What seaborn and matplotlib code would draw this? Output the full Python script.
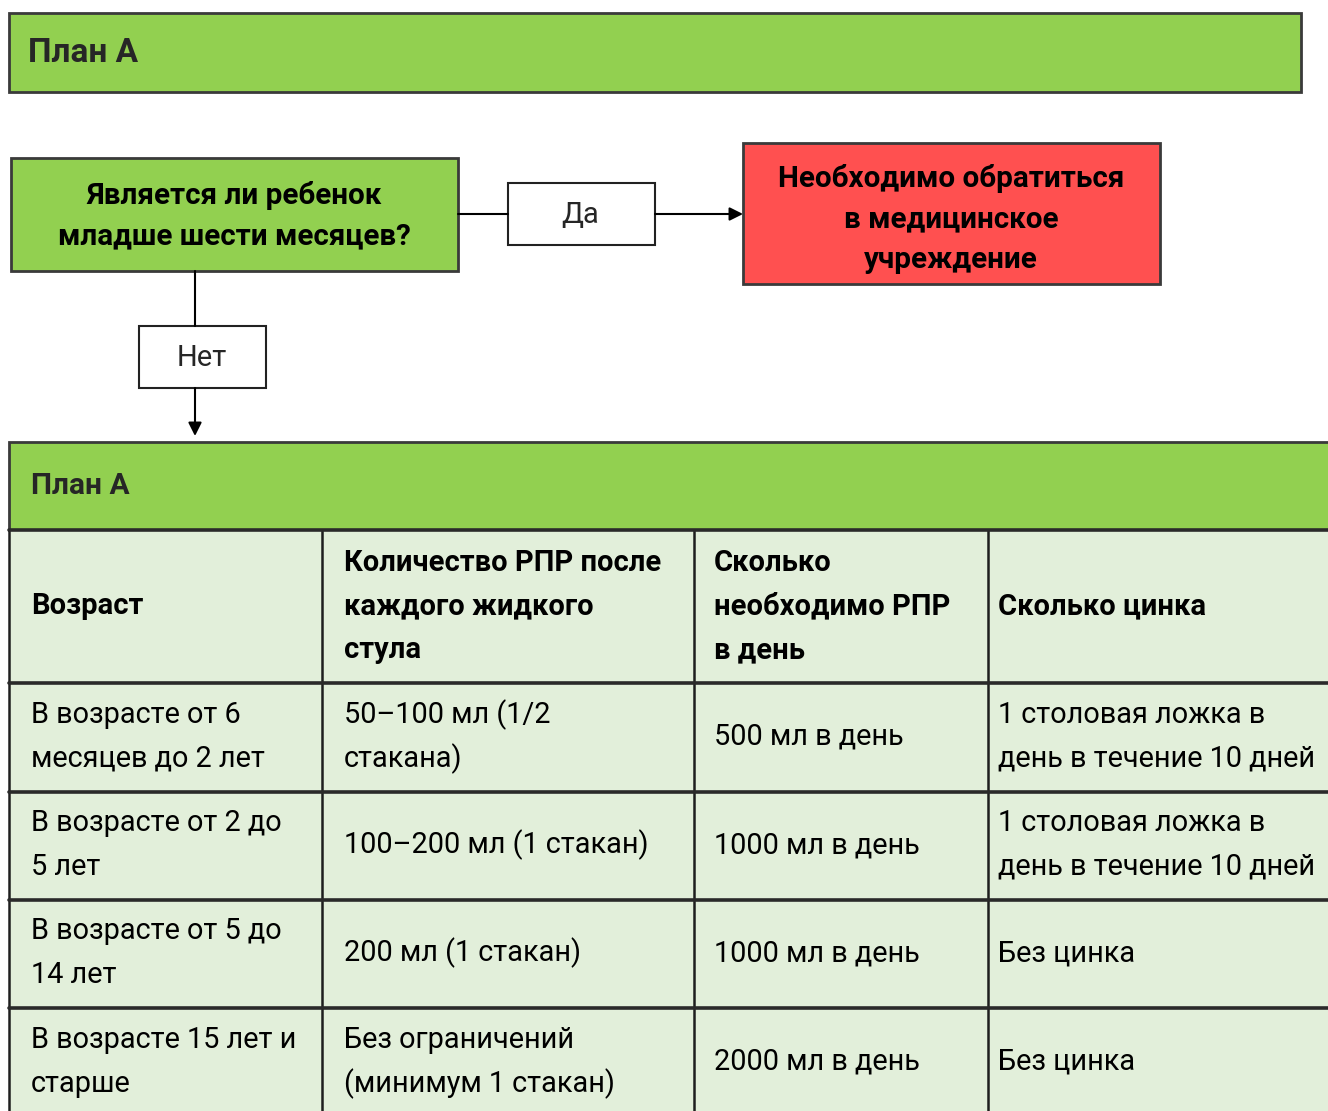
import matplotlib
matplotlib.use("Agg")
import matplotlib.pyplot as plt
import seaborn as sns
from matplotlib.patches import Rectangle

sns.set_theme(style="white")
plt.rcParams['font.family'] = ['Roboto', 'DejaVu Sans']

# ---- content ----
banner_title = "План А"
question_lines = ["Является ли ребенок", "младше шести месяцев?"]
yes_label = "Да"
no_label = "Нет"
red_lines = ["Необходимо обратиться", "в медицинское", "учреждение"]
table_title = "План А"
header_cells = [["Возраст"],
                ["Количество РПР после", "каждого жидкого", "стула"],
                ["Сколько", "необходимо РПР", "в день"],
                ["Сколько цинка"]]
age_cells = [["В возрасте от 6", "месяцев до 2 лет"],
             ["В возрасте от 2 до", "5 лет"],
             ["В возрасте от 5 до", "14 лет"],
             ["В возрасте 15 лет и", "старше"]]
per_stool_cells = [["50–100 мл (1/2", "стакана)"],
                   ["100–200 мл (1 стакан)"],
                   ["200 мл (1 стакан)"],
                   ["Без ограничений", "(минимум 1 стакан)"]]
per_day_cells = [["500 мл в день"],
                 ["1000 мл в день"],
                 ["1000 мл в день"],
                 ["2000 мл в день"]]
zinc_cells = [["1 столовая ложка в", "день в течение 10 дней"],
              ["1 столовая ложка в", "день в течение 10 дней"],
              ["Без цинка"],
              ["Без цинка"]]

GREEN = "#92D050"
RED = "#FF5050"
LIGHT = "#E2EFDA"
EDGE = "#3a3a3a"

W, H = 1328, 1111
fig = plt.figure(figsize=(W / 100, H / 100), dpi=100)
ax = fig.add_axes([0, 0, 1, 1])
ax.set_xlim(0, W)
ax.set_ylim(H, 0)
ax.axis("off")


def box(x0, y0, x1, y1, fc, lw=2.0, ec=EDGE, z=1):
    ax.add_patch(Rectangle((x0, y0), x1 - x0, y1 - y0, facecolor=fc,
                           edgecolor=ec, linewidth=lw, zorder=z))


def lines_text(lines, x, yc, spacing, ha="left", size=16, weight="normal"):
    n = len(lines)
    for i, t in enumerate(lines):
        y = yc + (i - (n - 1) / 2) * spacing
        ax.text(x, y, t, ha=ha, va="center", fontsize=size,
                fontweight=weight, color="black", zorder=5)


# top banner
box(9, 13, 1301, 92, GREEN)
ax.text(28, 53, banner_title, ha="left", va="center", fontsize=24,
        fontweight="bold", zorder=5)

# question box
box(11, 158, 458, 271, GREEN)
lines_text(question_lines, 234, 216, 41, ha="center", size=21.3, weight="bold")

# yes path
ax.plot([458, 508], [214, 214], color="black", lw=1.5, zorder=2)
box(508, 183, 655, 245, "white", lw=1.5, ec="#222222")
ax.text(580, 215, yes_label, ha="center", va="center", fontsize=21, zorder=5)
ax.annotate("", xy=(743, 214), xytext=(655, 214),
            arrowprops=dict(arrowstyle="-|>", color="black", lw=1.5,
                            mutation_scale=20, shrinkA=0, shrinkB=0), zorder=3)

# red box
box(743, 143, 1160, 284, RED)
lines_text(red_lines, 951, 219, 40.5, ha="center", size=21.3, weight="bold")

# no path
ax.plot([195, 195], [271, 326], color="black", lw=1.5, zorder=2)
box(139, 326, 266, 388, "white", lw=1.5, ec="#222222")
ax.text(202, 358, no_label, ha="center", va="center", fontsize=21, zorder=5)
ax.annotate("", xy=(195, 436), xytext=(195, 388),
            arrowprops=dict(arrowstyle="-|>", color="black", lw=1.5,
                            mutation_scale=20, shrinkA=0, shrinkB=0), zorder=3)

# table header band
box(9, 442, 1340, 530, GREEN)
ax.text(31, 486, table_title, ha="left", va="center", fontsize=21.5,
        fontweight="bold", zorder=5)

# table body
col_x = [9, 322, 694, 988, 1340]
row_y = [530, 683, 792, 900, 1008, 1120]
ax.add_patch(Rectangle((9, 530), 1331, 590, facecolor=LIGHT,
                       edgecolor="none", zorder=1))
for x in col_x[:-1]:
    ax.plot([x, x], [530, 1120], color="#1e1e1e", lw=1.8, zorder=3)
for y in row_y[:-1]:
    ax.plot([9, 1340], [y, y], color="#2a2a2a", lw=2.6, zorder=3)

text_x = [31, 344, 714, 998]
spacing = 43.5

# header row
yc = (row_y[0] + row_y[1]) / 2
for c, cell in enumerate(header_cells):
    lines_text(cell, text_x[c], yc, spacing, size=21, weight="bold")

# body rows
columns = [age_cells, per_stool_cells, per_day_cells, zinc_cells]
for r in range(4):
    yc = (row_y[r + 1] + row_y[r + 2]) / 2 if r < 3 else 1063
    for c, col in enumerate(columns):
        lines_text(col[r], text_x[c], yc - 1, spacing, size=20.8)

fig.savefig("out.png", dpi=100)
